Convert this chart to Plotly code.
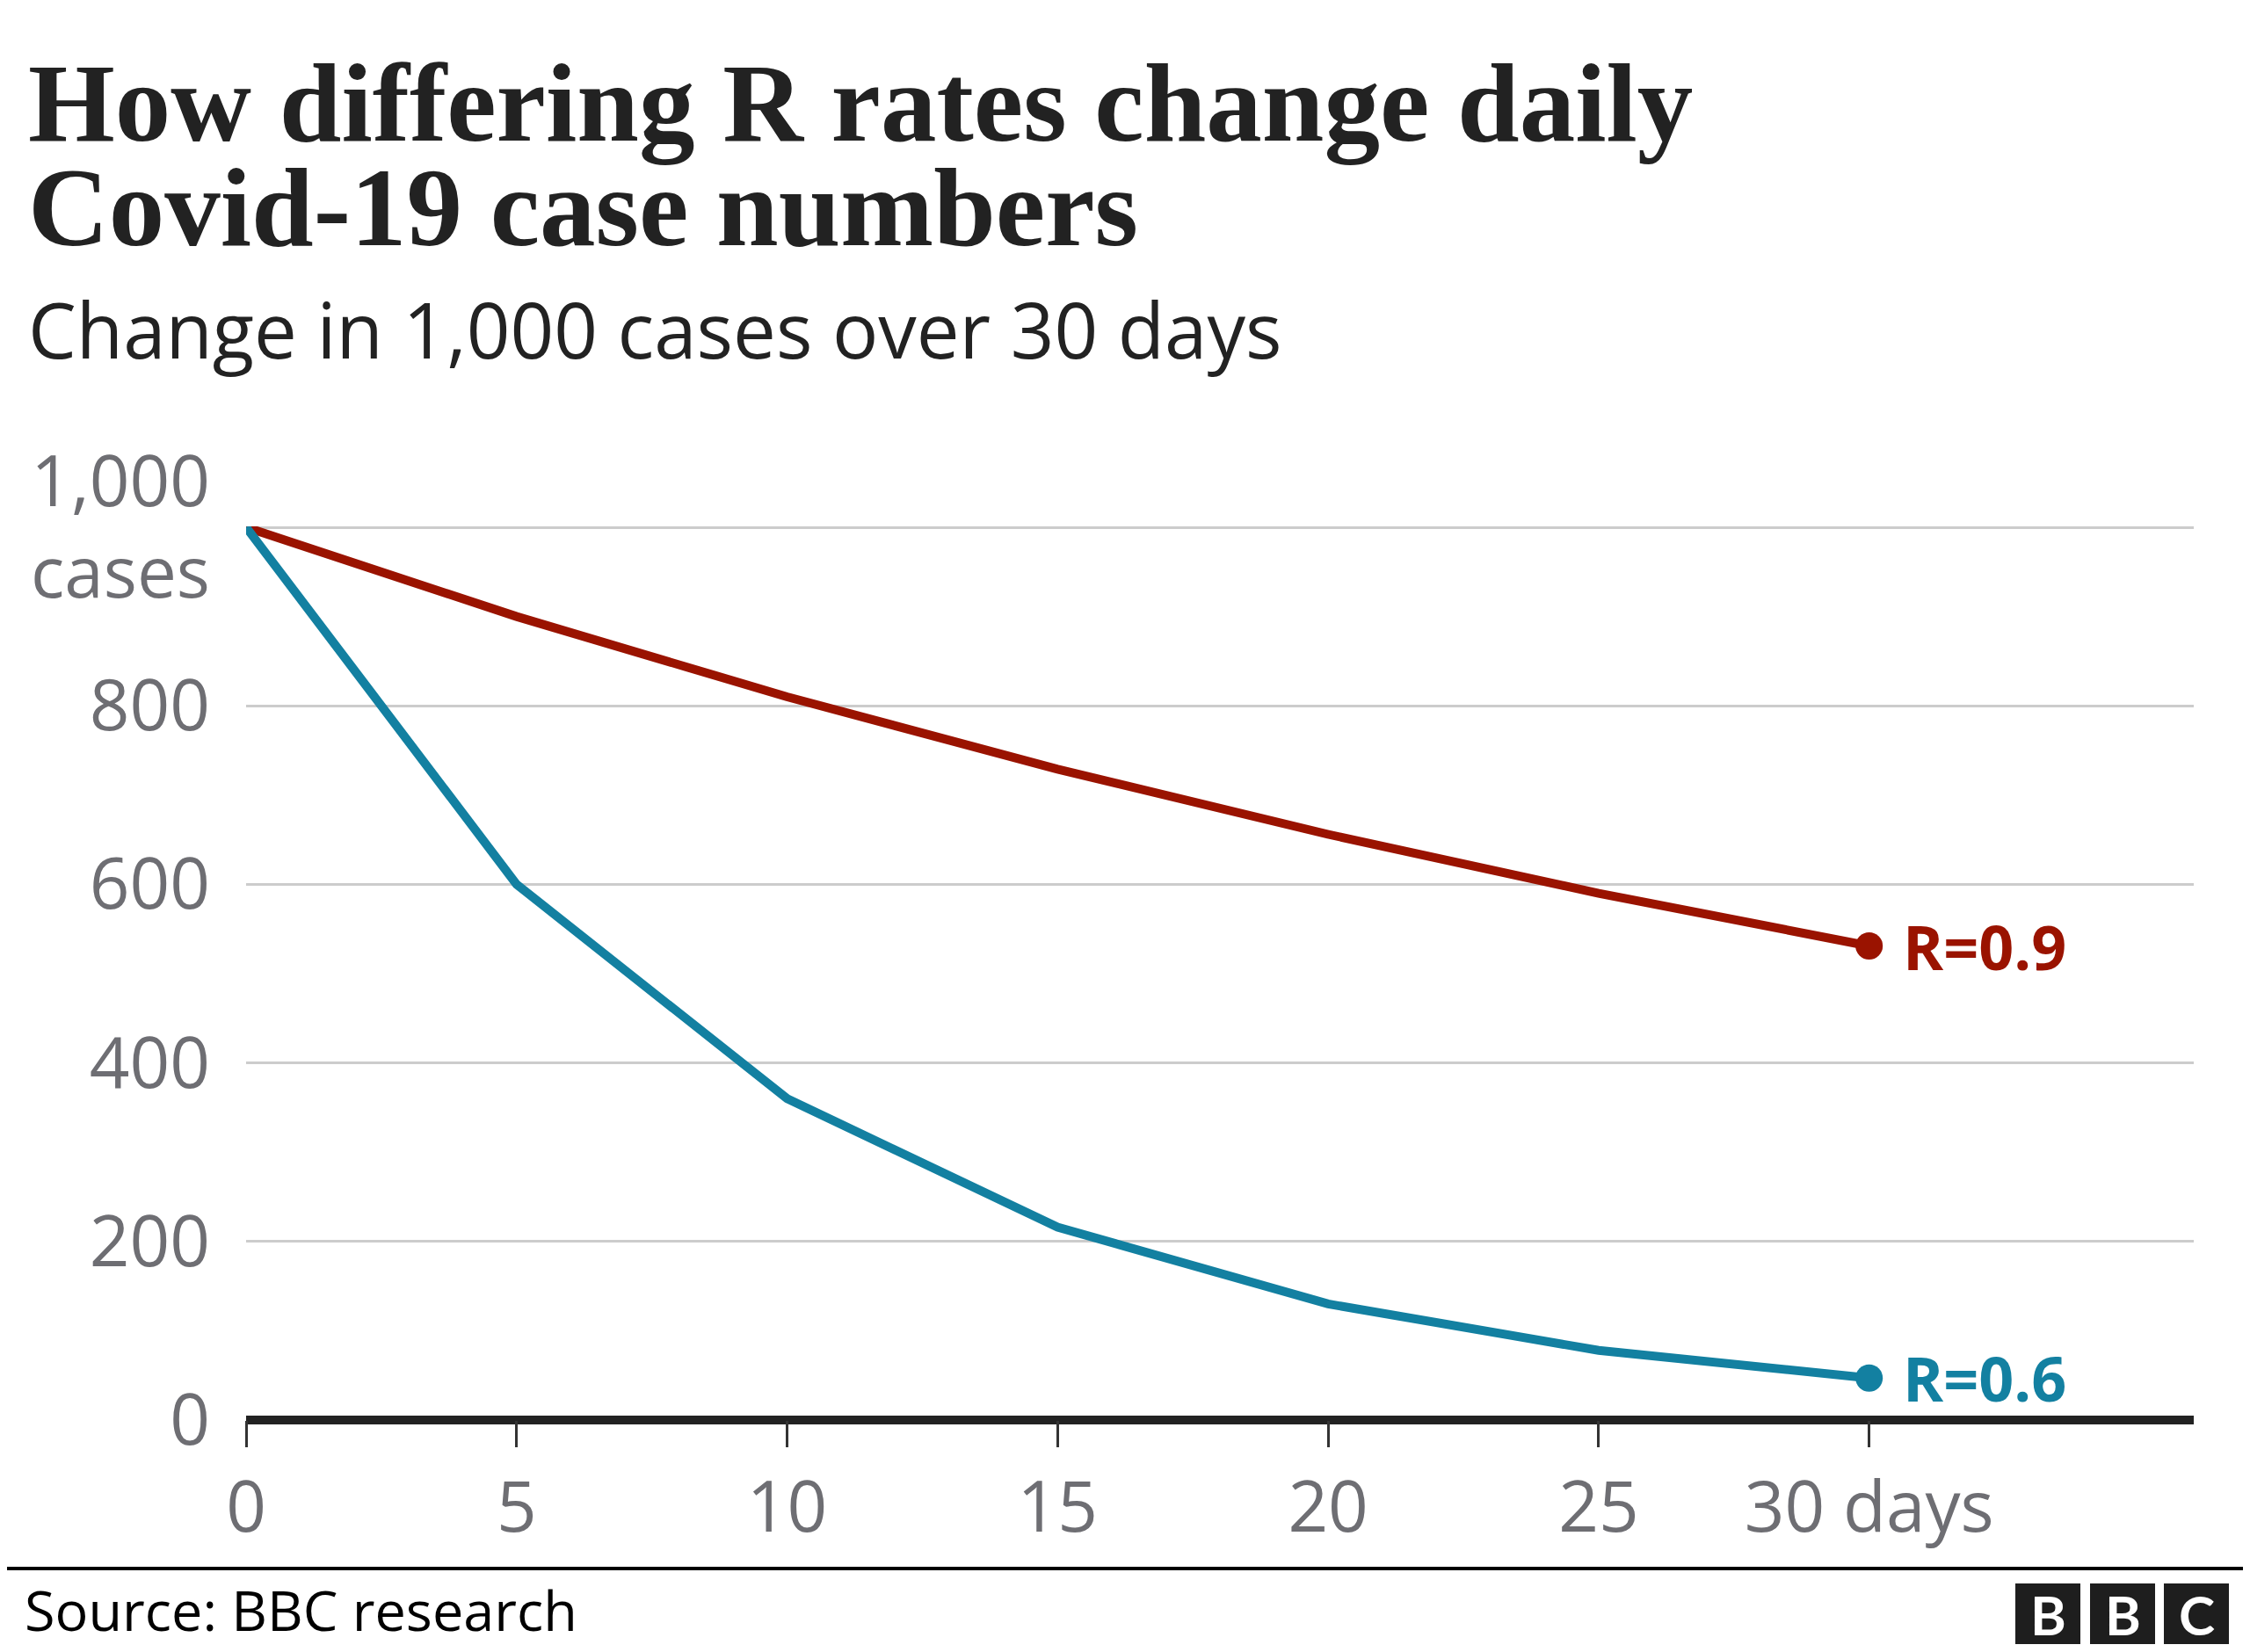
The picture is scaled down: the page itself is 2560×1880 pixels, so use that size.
import plotly.graph_objects as go

# ---- data ----
days = [0, 5, 10, 15, 20, 25, 30]
cases_r09 = [1000, 900, 810, 729, 656, 590, 531]
cases_r06 = [1000, 600, 360, 216, 130, 78, 47]
series_names = ["R=0.9", "R=0.6"]
x_tick_vals = [0, 5, 10, 15, 20, 25, 30]
x_tick_text = ["0", "5", "10", "15", "20", "25", "30 days"]
y_tick_vals = [0, 200, 400, 600, 800, 1000]
y_tick_text = ["0", "200", "400", "600", "800", "1,000<br>cases"]

title_line1 = "How differing R rates change daily"
title_line2 = "Covid-19 case numbers"
subtitle = "Change in 1,000 cases over 30 days"
source = "Source: BBC research"

# ---- style / layout (page pixel targets; page body has an 8px margin) ----
OFF = 8
W, H = 2560 - OFF, 1880 - OFF
L, R, T, B = 280 - OFF, 2496 - OFF, 599 - OFF, 1616 - OFF
PW, PH = R - L, B - T

RED = "#9a1300"
BLUE = "#1380a1"
GREY = "#6e6e73"
DARK = "#222222"
SANS = "Open Sans, Noto Sans, sans-serif"
SERIF = "Liberation Serif, DejaVu Serif, serif"


def px(xp):
    return (xp - OFF - L) / PW


def py(yp):
    return (B - (yp - OFF)) / PH


fig = go.Figure()

for vals, name, col in [(cases_r09, series_names[0], RED), (cases_r06, series_names[1], BLUE)]:
    fig.add_trace(go.Scatter(
        x=days, y=vals, mode="lines", name=name,
        line=dict(color=col, width=10), cliponaxis=False, hoverinfo="skip",
    ))
    fig.add_trace(go.Scatter(
        x=[days[-1]], y=[vals[-1]], mode="markers", name=name,
        marker=dict(color=col, size=31), cliponaxis=False, hoverinfo="skip",
    ))

annotations = []
for vals, name, col in [(cases_r09, series_names[0], RED), (cases_r06, series_names[1], BLUE)]:
    annotations.append(dict(
        x=days[-1], y=vals[-1], xref="x", yref="y", text=name, showarrow=False,
        xanchor="left", yanchor="middle", xshift=36,
        font=dict(family=SANS, size=70, color=col, weight="bold"),
    ))

annotations += [
    dict(x=px(30), y=py(117), xref="paper", yref="paper", text=title_line1,
         showarrow=False, xanchor="left", yanchor="middle",
         font=dict(family=SERIF, size=127, color=DARK, weight="bold")),
    dict(x=px(30), y=py(236), xref="paper", yref="paper", text=title_line2,
         showarrow=False, xanchor="left", yanchor="middle",
         font=dict(family=SERIF, size=127, color=DARK, weight="bold")),
    dict(x=px(30), y=py(374), xref="paper", yref="paper", text=subtitle,
         showarrow=False, xanchor="left", yanchor="middle",
         font=dict(family=SANS, size=87, color=DARK)),
    dict(x=px(26), y=py(1832), xref="paper", yref="paper", text=source,
         showarrow=False, xanchor="left", yanchor="middle",
         font=dict(family=SANS, size=63, color="#000000")),
]

shapes = [
    dict(type="line", xref="paper", yref="paper", x0=px(OFF), x1=px(2560),
         y0=py(1785), y1=py(1785), line=dict(color="#000000", width=4)),
]
logo_blocks = [(2293, 2367, "B"), (2378, 2452, "B"), (2462, 2536, "C")]
for x0, x1, letter in logo_blocks:
    shapes.append(dict(type="rect", xref="paper", yref="paper",
                       x0=px(x0), x1=px(x1), y0=py(1871), y1=py(1802),
                       fillcolor="#1e1e1e", line=dict(width=0)))
    annotations.append(dict(x=px((x0 + x1) / 2), y=py(1837), xref="paper", yref="paper",
                            text=letter, showarrow=False, xanchor="center", yanchor="middle",
                            font=dict(family="Lato, DejaVu Sans, sans-serif", size=62,
                                      color="#ffffff", weight="bold")))

fig.update_layout(
    width=W, height=H,
    margin=dict(l=L, r=W - R, t=T, b=H - B, pad=0),
    paper_bgcolor="#ffffff", plot_bgcolor="#ffffff",
    showlegend=False,
    annotations=annotations,
    shapes=shapes,
    xaxis=dict(
        range=[0, 36], tickvals=x_tick_vals, ticktext=x_tick_text,
        showgrid=False, zeroline=False, showline=False,
        ticks="outside", ticklen=30, tickwidth=3, tickcolor="#333333",
        tickfont=dict(family=SANS, size=80, color=GREY),
        ticklabelstandoff=0, fixedrange=True,
    ),
    yaxis=dict(
        range=[0, 1001], tickvals=y_tick_vals, ticktext=y_tick_text,
        showgrid=True, gridcolor="#cccccc", gridwidth=3,
        zeroline=True, zerolinecolor=DARK, zerolinewidth=10,
        showline=False, ticks="",
        tickfont=dict(family=SANS, size=80, color=GREY),
        ticklabelstandoff=40, fixedrange=True,
    ),
)

fig.write_html("out.html", config={"displayModeBar": False})
